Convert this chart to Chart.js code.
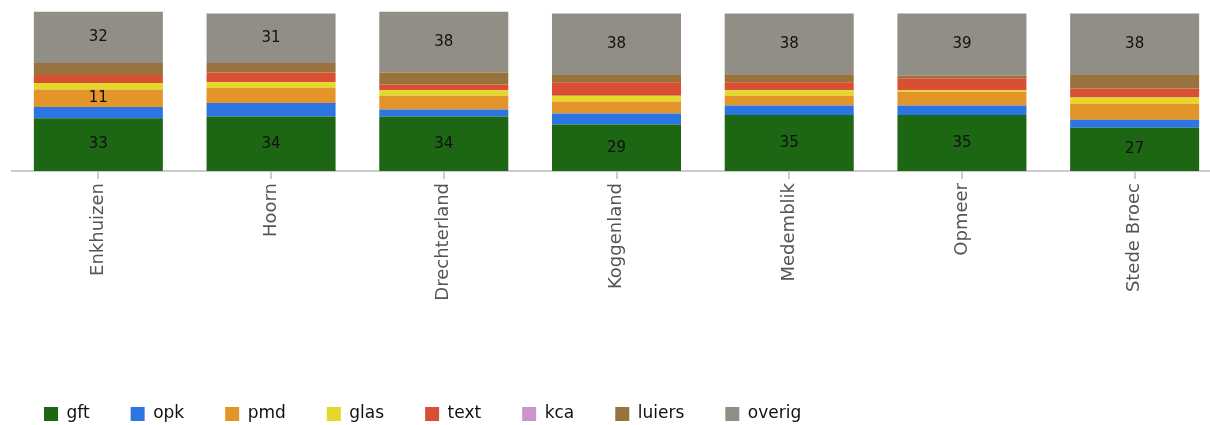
<!DOCTYPE html>
<html>
<head>
<meta charset="utf-8">
<script src="https://cdn.jsdelivr.net/npm/chart.js@4"></script>
<style>
  html, body { margin: 0; padding: 0; overflow: hidden; background: #fff; }
  #wrap { width: 1221px; height: 425px; }
</style>
</head>
<body>
<div id="wrap"><canvas id="chart"></canvas></div>
<script>
// gemeenten
const gemeenten = ['Enkhuizen', 'Hoorn', 'Drechterland', 'Koggenland', 'Medemblik', 'Opmeer', 'Stede Broec'];

// aandeel per afvalstroom (%)
const gft    = [33, 34, 34, 29, 35, 35, 27];
const opk    = [7, 8.5, 4.5, 7, 6, 6, 5];
const pmd    = [11, 9.5, 8.5, 7.5, 6, 8.5, 10];
const glas   = [4, 3.5, 3.5, 3.5, 3.5, 1, 4];
const text   = [5, 6, 3.5, 8.5, 5, 7.5, 5.5];
const kca    = [0, 0, 0, 0, 0, 0, 0];
const luiers = [7.5, 6, 7.5, 5, 5, 1.5, 9];
const overig = [32, 31, 38, 38, 38, 39, 38];

const LEGEND_PAD = 41;
const AREA_BOTTOM = 171;

// labels in de segmenten (alleen grotere waarden)
const segmentLabels = {
    id: 'segmentLabels',
    afterDatasetsDraw(chart) {
        const ctx = chart.ctx;
        ctx.save();
        ctx.font = '15px "DejaVu Sans"';
        ctx.fillStyle = '#111';
        ctx.textAlign = 'center';
        ctx.textBaseline = 'middle';
        chart.data.datasets.forEach((ds, i) => {
            const meta = chart.getDatasetMeta(i);
            meta.data.forEach((bar, j) => {
                if (ds.data[j] >= 11) {
                    ctx.fillText(ds.data[j], bar.x, (bar.y + bar.base) / 2);
                }
            });
        });
        ctx.restore();
    }
};

// legenda linksonder plaatsen
const legendPlace = {
    id: 'legendPlace',
    afterLayout(chart) {
        const lg = chart.legend;
        if (!lg) return;
        lg.left = 44 - LEGEND_PAD;
        lg.top = 407 - 1.5 - LEGEND_PAD;
    }
};

const kleuren = {
    gft: '#1c6614',
    opk: '#2b76e2',
    pmd: '#e4952a',
    glas: '#e5d828',
    text: '#d94f33',
    kca: '#cc94cc',
    luiers: '#98733d',
    overig: '#918e86'
};

const series = { gft, opk, pmd, glas, text, kca, luiers, overig };

new Chart(document.getElementById('chart'), {
    type: 'bar',
    data: {
        labels: gemeenten,
        datasets: Object.keys(series).map(name => ({
            label: name,
            data: series[name],
            backgroundColor: kleuren[name],
            borderWidth: 0,
            categoryPercentage: 1,
            barPercentage: 0.747
        }))
    },
    options: {
        responsive: true,
        maintainAspectRatio: false,
        animation: false,
        layout: { padding: { top: 11, left: 12, right: 0, bottom: 0 } },
        plugins: {
            tooltip: { enabled: false },
            legend: {
                position: 'bottom',
                align: 'start',
                labels: {
                    boxWidth: 14,
                    boxHeight: 14,
                    padding: LEGEND_PAD,
                    color: '#111',
                    font: { size: 17, family: 'DejaVu Sans' }
                }
            }
        },
        scales: {
            x: {
                stacked: true,
                border: { color: '#cccccc', width: 2 },
                grid: {
                    offset: false,
                    drawOnChartArea: false,
                    drawTicks: true,
                    tickLength: 8,
                    color: '#cccccc',
                    lineWidth: 2
                },
                ticks: {
                    minRotation: 90,
                    maxRotation: 90,
                    padding: 4,
                    color: '#555',
                    font: { size: 18, family: 'DejaVu Sans' }
                },
                afterFit(scale) {
                    scale.height = 425 - AREA_BOTTOM - scale.chart.legend.height;
                }
            },
            y: {
                stacked: true,
                display: false,
                min: 0,
                max: 100
            }
        }
    },
    plugins: [segmentLabels, legendPlace]
});
</script>
</body>
</html>
